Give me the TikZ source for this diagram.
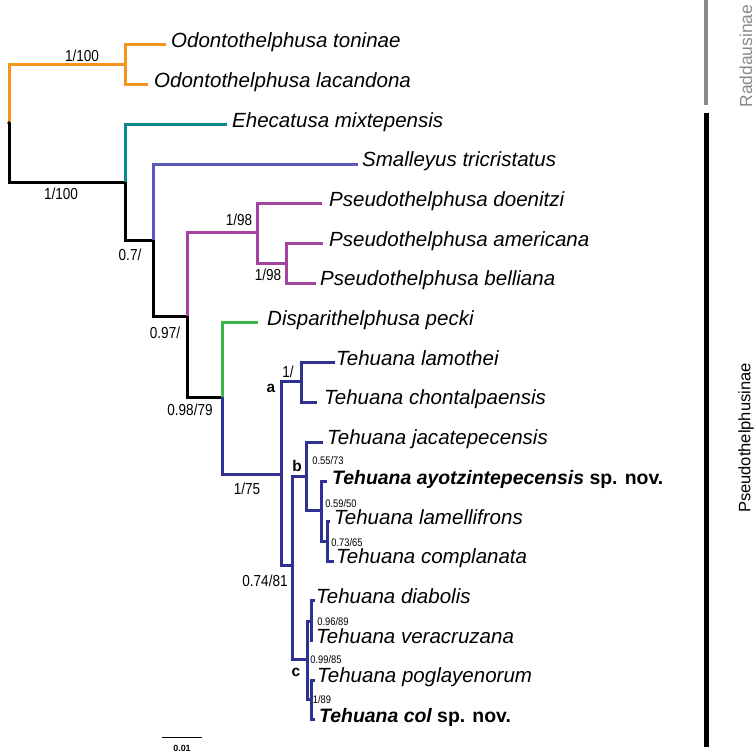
\documentclass[tikz,border=0pt]{standalone}
\usepackage{fontspec}
\setmainfont{Liberation Sans}
\newfontfamily\narrowf{Liberation Sans}[FakeStretch=0.85]
\definecolor{cOr}{HTML}{F7941E}
\definecolor{cTeal}{HTML}{0E8A8C}
\definecolor{cVio}{HTML}{5A5AB8}
\definecolor{cMag}{HTML}{A3449F}
\definecolor{cGrn}{HTML}{39B54A}
\definecolor{cBlu}{HTML}{2E3192}
\definecolor{cGray}{HTML}{8A8A8A}
\begin{document}
\begin{tikzpicture}[x=1bp,y=-1bp,
 br/.style={line width=3bp},
 tiplab/.style={anchor=mid west, inner sep=0pt, font=\fontsize{20.6}{24}\selectfont\itshape},
 boldlab/.style={anchor=mid west, inner sep=0pt, font=\fontsize{19.5}{23}\selectfont\itshape\bfseries},
 brlab/.style={anchor=center, inner sep=0pt, text height=11.5bp, text depth=0pt, font=\narrowf\fontsize{16}{18}\selectfont},
 smlab/.style={anchor=center, inner sep=0pt, text height=8bp, text depth=0pt, font=\narrowf\fontsize{11}{13}\selectfont},
 cladelab/.style={anchor=center, inner sep=0pt, font=\fontsize{15.5}{17}\selectfont\bfseries},
 sidelab/.style={rotate=90, anchor=center, inner sep=0pt},
]
\useasboundingbox (0,0) rectangle (756,753);
% internal nodes
\coordinate (R) at (9,123);
\coordinate (nO) at (125,65);
\coordinate (nP) at (125,182);
\coordinate (n3) at (153,240);
\coordinate (n4) at (187,316);
\coordinate (nPs) at (257,232);
\coordinate (nPs2) at (286,263);
\coordinate (n5) at (222,397);
\coordinate (nT) at (281,474);
\coordinate (na) at (301,381);
\coordinate (n6) at (292,565);
\coordinate (nb) at (306,476);
\coordinate (nb2) at (321,510);
\coordinate (nb3) at (327,541);
\coordinate (nc) at (307,659);
\coordinate (nc1) at (311,621);
\coordinate (nc2) at (311,699);
% tips
\coordinate (c1) at (166,45);
\coordinate (c2) at (148,84.7);
\coordinate (c3) at (227,124.4);
\coordinate (c4) at (358,164.1);
\coordinate (c5) at (322,203.8);
\coordinate (c6) at (323,243.5);
\coordinate (c7) at (316,283.2);
\coordinate (c8) at (258,322.9);
\coordinate (c9) at (335,362.6);
\coordinate (c10) at (317,402.3);
\coordinate (c11) at (323,442);
\coordinate (c12) at (327,481.7);
\coordinate (c13) at (330,521.4);
\coordinate (c14) at (334,561.1);
\coordinate (c15) at (315,600.8);
\coordinate (c16) at (313,640.5);
\coordinate (c17) at (315,680.2);
\coordinate (c18) at (315,719.9);
% branches
\draw[br,cOr] (R) |- (nO);
\draw[br,black] (R) |- (nP);
\draw[br,cOr] (nO) |- (c1) (nO) |- (c2);
\draw[br,cTeal] (nP) |- (c3);
\draw[br,black] (nP) |- (n3);
\draw[br,cVio] (n3) |- (c4);
\draw[br,black] (n3) |- (n4);
\draw[br,cMag] (n4) |- (nPs);
\draw[br,black] (n4) |- (n5);
\draw[br,cMag] (nPs) |- (c5) (nPs) |- (nPs2) (nPs2) |- (c6) (nPs2) |- (c7);
\draw[br,cGrn] (n5) |- (c8);
\draw[br,cBlu] (n5) |- (nT);
\draw[br,cBlu] (nT) |- (na) (nT) |- (n6)
  (na) |- (c9) (na) |- (c10)
  (n6) |- (nb) (n6) |- (nc)
  (nb) |- (c11) (nb) |- (nb2)
  (nb2) |- (c12) (nb2) |- (nb3)
  (nb3) |- (c13) (nb3) |- (c14)
  (nc) |- (nc1) (nc) |- (nc2)
  (nc1) |- (c15) (nc1) |- (c16)
  (nc2) |- (c17) (nc2) |- (c18);
\fill[black] (R) circle (1.8bp);
% tip labels
\node[tiplab] (l1) at (171,45) {Odontothelphusa toninae};
\node[tiplab] (l2) at (154,84.7) {Odontothelphusa lacandona};
\node[tiplab] (l3) at (232,124.4) {Ehecatusa mixtepensis};
\node[tiplab] (l4) at (362,164.1) {Smalleyus tricristatus};
\node[tiplab] (l5) at (329,203.8) {Pseudothelphusa doenitzi};
\node[tiplab] (l6) at (329,243.5) {Pseudothelphusa americana};
\node[tiplab] (l7) at (320,283.2) {Pseudothelphusa belliana};
\node[tiplab] (l8) at (267,322.9) {Disparithelphusa pecki};
\node[tiplab] (l9) at (336,362.6) {Tehuana lamothei};
\node[tiplab] (l10) at (324,402.3) {Tehuana chontalpaensis};
\node[tiplab] (l11) at (327,442) {Tehuana jacatepecensis};
\node[boldlab] (l12) at (332,481.7) {Tehuana ayotzintepecensis \upshape sp. nov.};
\node[tiplab] (l13) at (334,521.4) {Tehuana lamellifrons};
\node[tiplab] (l14) at (336,561.1) {Tehuana complanata};
\node[tiplab] (l15) at (316,600.8) {Tehuana diabolis};
\node[tiplab] (l16) at (316,640.5) {Tehuana veracruzana};
\node[tiplab] (l17) at (317,680.2) {Tehuana poglayenorum};
\node[boldlab] (l18) at (319,719.9) {Tehuana col \upshape sp. nov.};
% support labels
\node[brlab] (s1) at (82,56) {1/100};
\node[brlab] (s2) at (61,194) {1/100};
\node[brlab] (s3) at (130,255) {0.7/};
\node[brlab] (s4) at (165,333) {0.97/};
\node[brlab] (s5) at (190,410) {0.98/79};
\node[brlab] (s6) at (239,220) {1/98};
\node[brlab] (s7) at (268,275) {1/98};
\node[brlab] (s8) at (247,489) {1/75};
\node[brlab] (s9) at (288,372) {1/};
\node[brlab] (s10) at (265,581) {0.74/81};
\node[smlab] (s11) at (328,460) {0.55/73};
\node[smlab] (s12) at (341,503) {0.59/50};
\node[smlab] (s13) at (347,542) {0.73/65};
\node[smlab] (s14) at (326,659) {0.99/85};
\node[smlab] (s15) at (333,621) {0.96/89};
\node[smlab] (s16) at (322,699) {1/89};
% clade letters
\node[cladelab] (ka) at (271,388) {a};
\node[cladelab] (kb) at (297,466) {b};
\node[cladelab] (kc) at (296,672) {c};
% side bars
\draw[cGray, line width=4bp] (706,0) -- (706,105);
\node[sidelab, text=cGray, font=\fontsize{17.5}{20}\selectfont] (rad) at (746,56) {Raddausinae};
\draw[black, line width=5bp] (706,113) -- (706,747);
\node[sidelab, font=\fontsize{16.6}{19}\selectfont] (pse) at (746,438) {Pseudothelphusinae};
% scale bar
\coordinate (sb1) at (162,737);
\coordinate (sb2) at (202,737);
\draw[line width=1bp] (sb1) -- (sb2);
\node[inner sep=0pt, font=\fontsize{9}{10}\selectfont\bfseries] (sbl) at (182,748) {0.01};
\end{tikzpicture}
\end{document}
